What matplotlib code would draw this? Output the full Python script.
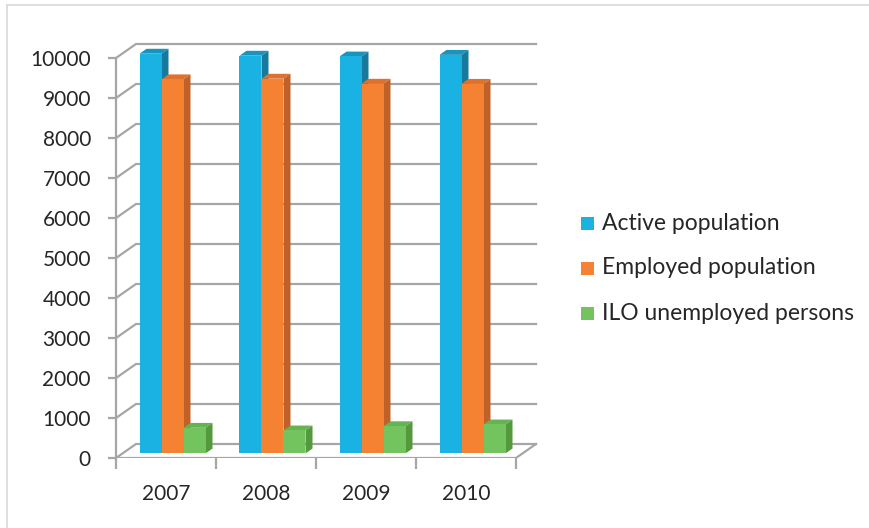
import matplotlib
matplotlib.use("Agg")
import matplotlib.pyplot as plt
from matplotlib.patches import Polygon, Rectangle
from matplotlib.lines import Line2D

plt.rcParams["font.family"] = ["Lato", "DejaVu Sans"]

years = ["2007", "2008", "2009", "2010"]
active = [9994, 9944, 9924, 9965]
employed = [9353, 9369, 9243, 9240]
unemployed = [641, 575, 681, 725]
series_names = ["Active population", "Employed population", "ILO unemployed persons"]
yticks = list(range(0, 10001, 1000))

# front / top / side shades per series
shades = [
    ("#19b2e3", "#1a93bd", "#17799b"),
    ("#f58233", "#e0712c", "#c0612a"),
    ("#73c35f", "#66b352", "#55993f"),
]

DX, DY = 0.2, 350          # depth of the box (x units, value units)
F0, F1 = 0.325, 0.675      # bars sit in the middle of the depth
GROUP_W = 0.66
GRID_C = "#a6a6a6"
TEXT_C = "#262626"

fig = plt.figure(figsize=(8.7, 5.28), dpi=100)
W, H = 870, 528
ax = fig.add_axes([116 / W, 70 / H, 430 / W, 420 / H])
ax.set_xlim(0, 4.3)
ax.set_ylim(0, 10500)
ncat = len(years)

# back wall, side wall and floor lines
for v in yticks:
    ax.plot([0, DX, ncat + DX], [v, v + DY, v + DY], color=GRID_C, lw=1.6,
            solid_joinstyle="miter", zorder=1)
ax.plot([0, ncat, ncat + DX], [0, 0, DY], color=GRID_C, lw=1.6, zorder=1)

# pseudo-3D bars
bar_w = GROUP_W / len(series_names)
for c in range(ncat):
    vals = [active[c], employed[c], unemployed[c]]
    for i, v in enumerate(vals):
        front, top, side = shades[i]
        x0 = c + 0.5 - GROUP_W / 2 + i * bar_w + F0 * DX
        y0 = F0 * DY
        ddx, ddy = (F1 - F0) * DX, (F1 - F0) * DY
        ax.add_patch(Polygon([(x0, y0 + v), (x0 + bar_w, y0 + v),
                              (x0 + bar_w + ddx, y0 + v + ddy), (x0 + ddx, y0 + v + ddy)],
                             closed=True, fc=top, ec="none", zorder=2 + c * 3 + i))
        ax.add_patch(Polygon([(x0 + bar_w, y0), (x0 + bar_w + ddx, y0 + ddy),
                              (x0 + bar_w + ddx, y0 + v + ddy), (x0 + bar_w, y0 + v)],
                             closed=True, fc=side, ec="none", zorder=2 + c * 3 + i))
        ax.add_patch(Rectangle((x0, y0), bar_w, v, fc=front, ec="none",
                               zorder=2 + c * 3 + i))

# axes: only the front vertical axis is a spine
for s in ["top", "right", "bottom"]:
    ax.spines[s].set_visible(False)
ax.spines["left"].set_bounds(0, 10000)
ax.spines["left"].set_color(GRID_C)
ax.spines["left"].set_linewidth(1.6)
ax.set_yticks(yticks)
ax.set_yticklabels([str(v) for v in yticks])
ax.tick_params(axis="y", direction="out", length=6, width=1.6, color=GRID_C,
               pad=12, labelsize=15, labelcolor=TEXT_C)

ax.set_xticks(range(ncat + 1))
ax.set_xticklabels([])
ax.tick_params(axis="x", which="major", direction="out", length=8, width=1.6, color=GRID_C)
ax.set_xticks([c + 0.5 for c in range(ncat)], minor=True)
ax.set_xticklabels(years, minor=True)
ax.tick_params(axis="x", which="minor", length=0, pad=19, labelsize=15, labelcolor=TEXT_C)
ax.patch.set_visible(False)

# legend drawn in figure pixels
for k, name in enumerate(series_names):
    yc = H - (223 + 45 * k)
    fig.add_artist(Rectangle((581 / W, (yc - 7) / H), 13 / W, 13 / H,
                             transform=fig.transFigure, fc=shades[k][0], ec="none"))
    fig.text(602 / W, yc / H, name, fontsize=16.5, color=TEXT_C, va="center", ha="left")

# chart frame
fig.add_artist(Line2D([7 / W, 7 / W], [0, 1 - 5 / H], transform=fig.transFigure,
                      color="#d9d9d9", lw=1.2))
fig.add_artist(Line2D([7 / W, 1], [1 - 5 / H, 1 - 5 / H], transform=fig.transFigure,
                      color="#d9d9d9", lw=1.2))

fig.savefig("out.png", dpi=100)
